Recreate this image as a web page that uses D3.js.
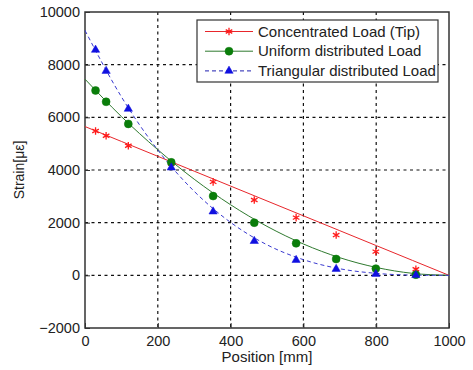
<!DOCTYPE html>
<html>
<head>
<meta charset="utf-8">
<script src="https://cdn.jsdelivr.net/npm/d3@7"></script>
<style>
  html, body { margin: 0; padding: 0; background: #fff; }
  svg { display: block; font-family: "Liberation Sans", Arial, sans-serif; }
</style>
</head>
<body>
<svg id="chart" width="473" height="370"></svg>
<script>
// Measured positions along the beam (mm)
const positions = [29, 58, 119, 237, 352, 465, 580, 690, 799, 909];

// Measured strain (micro-strain) for each load case
const tipLoad        = [5480, 5300, 4920, 4250, 3550, 2860, 2190, 1530, 900, 230];
const uniformLoad    = [7020, 6590, 5750, 4290, 3010, 2000, 1215, 620, 255, 25];
const triangularLoad = [8560, 7760, 6320, 4090, 2420, 1300, 580, 240, 50, 5];

// Theoretical curves (position, strain)
const curveX         = [0, 100, 200, 300, 400, 500, 600, 700, 800, 900, 1000];
const tipCurve       = [5650, 5085, 4520, 3955, 3390, 2825, 2260, 1695, 1130, 565, 0];
const uniformCurve   = [7450, 6030, 4770, 3650, 2680, 1860, 1190, 670, 300, 75, 0];
const triangularCurve= [9300, 6780, 4760, 3190, 2010, 1160, 595, 250, 75, 10, 0];

const xTicks = [0, 200, 400, 600, 800, 1000];
const yTicks = [-2000, 0, 2000, 4000, 6000, 8000, 10000];

const seriesNames = ["Concentrated Load (Tip)", "Uniform distributed Load", "Triangular distributed Load"];
const seriesColors = ["#ff1a1a", "#0a7d0a", "#1010e0"];
const lineColors = ["#e8262b", "#2f7a2f", "#3a3ad0"];

const svg = d3.select("#chart");
const margin = { left: 85, top: 12, right: 24, bottom: 42 };
const W = 473, H = 370;
const x = d3.scaleLinear().domain([0, 1000]).range([margin.left, W - margin.right]);
const y = d3.scaleLinear().domain([-2000, 10000]).range([H - margin.bottom, margin.top]);

// grid
const grid = svg.append("g");
grid.selectAll("line.gx").data(xTicks.slice(1, -1)).join("line")
  .attr("x1", d => x(d)).attr("x2", d => x(d))
  .attr("y1", y(10000)).attr("y2", y(-2000))
  .attr("stroke", "#111").attr("stroke-width", 1.2).attr("stroke-dasharray", "3,3.5");
grid.selectAll("line.gy").data(yTicks.slice(1, -1)).join("line")
  .attr("y1", d => y(d)).attr("y2", d => y(d))
  .attr("x1", x(0)).attr("x2", x(1000))
  .attr("stroke", "#111").attr("stroke-width", 1.2).attr("stroke-dasharray", "3,3.5");

// axes (ticks pointing inward)
const xAxis = svg.append("g").attr("transform", `translate(0,${y(-2000)})`)
  .call(d3.axisBottom(x).tickValues(xTicks).tickSize(-5).tickPadding(8).tickFormat(d3.format("d")));
const yAxis = svg.append("g").attr("transform", `translate(${x(0)},0)`)
  .call(d3.axisLeft(y).tickValues(yTicks).tickSize(-5).tickPadding(5).tickFormat(d3.format("d")));
[xAxis, yAxis].forEach(a => {
  a.attr("font-size", 14.5).attr("font-family", "'Liberation Sans', Arial, sans-serif");
  a.select(".domain").remove();
  a.selectAll("line").attr("stroke", "#333");
  a.selectAll("text").attr("fill", "#222");
});

// frame
svg.append("rect")
  .attr("x", x(0)).attr("y", y(10000))
  .attr("width", x(1000) - x(0)).attr("height", y(-2000) - y(10000))
  .attr("fill", "none").attr("stroke", "#333").attr("stroke-width", 1.5);

// curves
const lineGen = d3.line().x(d => x(d[0])).y(d => y(d[1])).curve(d3.curveMonotoneX);
const curves = [tipCurve, uniformCurve, triangularCurve];
const dashes = [null, null, "4,3"];
curves.forEach((c, i) => {
  svg.append("path")
    .datum(curveX.map((px, j) => [px, c[j]]))
    .attr("d", lineGen)
    .attr("fill", "none")
    .attr("stroke", lineColors[i])
    .attr("stroke-width", 1)
    .attr("stroke-dasharray", dashes[i]);
});

// markers
const star = d3.symbol().type(d3.symbolAsterisk).size(40);
const circle = d3.symbol().type(d3.symbolCircle).size(50);
const tri = d3.symbol().type(d3.symbolTriangle).size(30);
function drawMarkers(values, sym, color, filled) {
  svg.append("g").selectAll("path").data(values).join("path")
    .attr("transform", (d, i) => `translate(${x(positions[i])},${y(d)})`)
    .attr("d", sym)
    .attr("fill", filled ? color : "none")
    .attr("stroke", color)
    .attr("stroke-width", filled ? 0.5 : 1.3);
}
drawMarkers(tipLoad, star, seriesColors[0], false);
drawMarkers(uniformLoad, circle, seriesColors[1], true);
drawMarkers(triangularLoad, tri, seriesColors[2], true);

// legend
const lg = svg.append("g");
lg.append("rect").attr("x", 197).attr("y", 20).attr("width", 241).attr("height", 62)
  .attr("fill", "#fff").attr("stroke", "#333").attr("stroke-width", 1.2);
const syms = [star, circle, tri];
seriesNames.forEach((name, i) => {
  const ry = 31.5 + i * 19.7;
  lg.append("line").attr("x1", 205).attr("x2", 253).attr("y1", ry).attr("y2", ry)
    .attr("stroke", i === 2 ? "#2020b0" : lineColors[i]).attr("stroke-width", 1)
    .attr("stroke-dasharray", i === 2 ? "4,3" : null);
  lg.append("path").attr("transform", `translate(229,${ry})`).attr("d", syms[i])
    .attr("fill", i === 0 ? "none" : seriesColors[i])
    .attr("stroke", seriesColors[i]).attr("stroke-width", i === 0 ? 1.3 : 0.5);
  lg.append("text").attr("x", 258).attr("y", ry).attr("dy", "0.35em")
    .attr("font-size", 15).attr("fill", "#222").text(name);
});

// axis titles
svg.append("text").attr("x", (x(0) + x(1000)) / 2).attr("y", 362)
  .attr("text-anchor", "middle").attr("font-size", 15).attr("fill", "#222")
  .text("Position [mm]");
svg.append("text")
  .attr("transform", `translate(24,${(y(10000) + y(-2000)) / 2}) rotate(-90)`)
  .attr("text-anchor", "middle").attr("font-size", 14).attr("fill", "#222")
  .text("Strain[με]");
</script>
</body>
</html>
